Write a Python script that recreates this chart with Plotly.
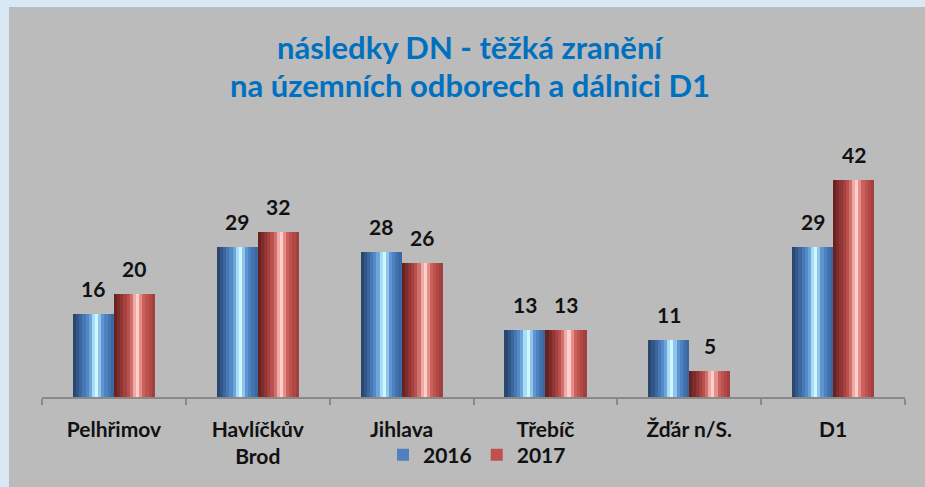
import plotly.graph_objects as go

categories = ["Pelhřimov", "Havlíčkův<br>Brod", "Jihlava", "Třebíč", "Žďár n/S.", "D1"]
values_2016 = [16, 29, 28, 13, 11, 29]
values_2017 = [20, 32, 26, 13, 5, 42]
series_names = ["2016", "2017"]
title_lines = ["následky DN - těžká zranění", "na územních odborech a dálnici D1"]

# layout geometry (pixels)
W, H = 925, 487
ML, MR, MT, MB = 42, 20, 140, 90
PW, PH = W - ML - MR, H - MT - MB
YMAX = PH / 5.17

def px_x(p):
    return (p - ML) / PW

def px_y(p):
    return (H - MB - p) / PH

BAR_W = 0.285
base_colors = ["#4F81BD", "#C0504D"]
# cylinder shading profiles (left -> right)
profiles = [
    ["#29476F", "#325787", "#3C679E", "#4778B3", "#5389C6", "#6CA5DA", "#A6DDF7", "#D2F6FF", "#8EC6EE", "#5F95D0", "#4F82C0", "#4474B0", "#3B68A2"],
    ["#6A2220", "#7C2C2A", "#903735", "#A54240", "#B9504D", "#D0706D", "#EFAAA6", "#FFD0CC", "#E68E8A", "#CC605C", "#BD524F", "#B04845", "#A3403D"],
]

fig = go.Figure()
series = [values_2016, values_2017]
xs = list(range(len(categories)))
for i, (name, vals) in enumerate(zip(series_names, series)):
    off = -BAR_W if i == 0 else 0.0
    fig.add_trace(go.Bar(
        x=xs, y=vals, name=name, width=BAR_W, offset=off,
        marker=dict(color=base_colors[i], line=dict(width=0)),
        hoverinfo="skip",
    ))
    prof = profiles[i]
    n = len(prof)
    sw = BAR_W / n
    for k, c in enumerate(prof):
        fig.add_trace(go.Bar(
            x=xs, y=vals, width=sw * 1.05, offset=off + k * sw,
            marker=dict(color=c, line=dict(width=0)),
            showlegend=False, hoverinfo="skip",
        ))
    for xi, v in zip(xs, vals):
        fig.add_annotation(
            x=xi + off + BAR_W / 2, y=v, text=f"<b>{v}</b>", showarrow=False,
            yanchor="bottom", yshift=11,
            font=dict(family="Lato", size=21, color="#111111"),
        )

# panel background
fig.add_shape(type="rect", xref="paper", yref="paper", layer="below",
              x0=px_x(9), x1=px_x(930), y0=px_y(7), y1=px_y(495),
              fillcolor="#BBBBBB", line=dict(width=0))

for j, (t, yc) in enumerate(zip(title_lines, [47, 85])):
    fig.add_annotation(
        xref="paper", yref="paper", x=px_x(470), y=px_y(yc),
        text=f"<b>{t}</b>", showarrow=False, xanchor="center", yanchor="middle",
        font=dict(family="Lato", size=31, color="#0070C0"),
    )

fig.update_layout(
    width=W, height=H,
    margin=dict(l=ML, r=MR, t=MT, b=MB),
    paper_bgcolor="#D9E8F5",
    plot_bgcolor="rgba(0,0,0,0)",
    barmode="overlay",
    bargap=0,
    showlegend=True,
    legend=dict(orientation="h", x=px_x(477), xanchor="center", y=px_y(455), yanchor="middle",
                font=dict(family="Lato", size=21, color="#111111", weight="bold"),
                bgcolor="rgba(0,0,0,0)", itemwidth=30, traceorder="normal"),
    font=dict(family="Lato"),
    xaxis=dict(
        tickmode="array", tickvals=xs, ticktext=[f"<b>{c}</b>" for c in categories],
        range=[-0.5, len(categories) - 0.5],
        showline=True, linecolor="#8A8A8A", linewidth=1.5,
        showgrid=False, zeroline=False,
        tickfont=dict(family="Lato", size=21, color="#111111"),
        ticklabelstandoff=13,
    ),
    yaxis=dict(range=[0, YMAX], visible=False, showgrid=False, zeroline=False),
)

# ticks between categories at boundaries
fig.update_xaxes(ticks="", minor=dict(tickvals=[x - 0.5 for x in xs] + [len(xs) - 0.5],
                                      ticks="outside", ticklen=6, tickcolor="#8A8A8A", tickwidth=1.5))

fig.write_html("out.html", config={"displayModeBar": False},
               post_script="document.body.style.margin='0';document.body.style.overflow='hidden';")
